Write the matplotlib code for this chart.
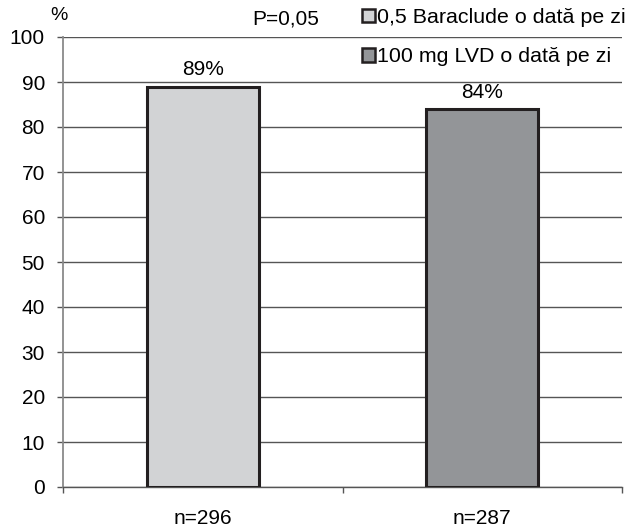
import matplotlib.pyplot as plt
from matplotlib.patches import Patch

# Procent de pacienti, pe grup de tratament
grupuri = ["0,5 Baraclude o dată pe zi", "100 mg LVD o dată pe zi"]
procente = [89, 84]
etichete_n = ["n=296", "n=287"]
culori = ["#d2d3d5", "#939598"]

plt.rcParams['font.family'] = ['Liberation Sans', 'DejaVu Sans']
FS = 15

fig = plt.figure(figsize=(6.41, 5.29), dpi=100)
ax = fig.add_axes([63 / 641, 1 - 487 / 529, (622 - 63) / 641, (487 - 37) / 529])

x = [0, 1]
ax.bar(x, procente, width=0.4, color=culori, edgecolor="#231f20", linewidth=2.2, zorder=3)

# valorile deasupra coloanelor
for xi, v in zip(x, procente):
    ax.text(xi, v + 1.6, f"{v}%", ha="center", va="bottom", fontsize=FS)

ax.set_xlim(-0.5, 1.5)
ax.set_ylim(0, 100)
ax.set_yticks(range(0, 101, 10))
ax.yaxis.grid(True, color="#555555", linewidth=1.0, zorder=0)

ax.set_xticks(x)
ax.set_xticklabels(etichete_n)
ax.set_xticks([-0.5, 0.5, 1.5], minor=True)
ax.tick_params(axis="x", which="major", length=0, pad=16, labelsize=FS)
ax.tick_params(axis="x", which="minor", length=4.5, width=1.0, color="#555555")
ax.tick_params(axis="y", length=4.5, width=1.0, color="#555555", labelsize=FS, pad=8.5)

for s in ["top", "right"]:
    ax.spines[s].set_visible(False)
ax.spines["left"].set_color("#8a8a8a")
ax.spines["left"].set_linewidth(1.3)
ax.spines["bottom"].set_color("#555555")
ax.spines["bottom"].set_linewidth(1.0)

fig.text(50 / 641, 1 - 15 / 529, "%", ha="left", va="center", fontsize=14)
fig.text(252 / 641, 1 - 19 / 529, "P=0,05", ha="left", va="center", fontsize=FS)

handles = [Patch(facecolor=c, edgecolor="#231f20", linewidth=1.8) for c in culori]
fig.legend(handles, grupuri, loc="upper left", bbox_to_anchor=(362 / 641, 1 - 8 / 529),
           frameon=False, fontsize=15.4, handlelength=0.6, handleheight=0.6,
           handletextpad=0.1, labelspacing=0.95, borderpad=0, borderaxespad=0)

fig.savefig("out.png", dpi=100)
